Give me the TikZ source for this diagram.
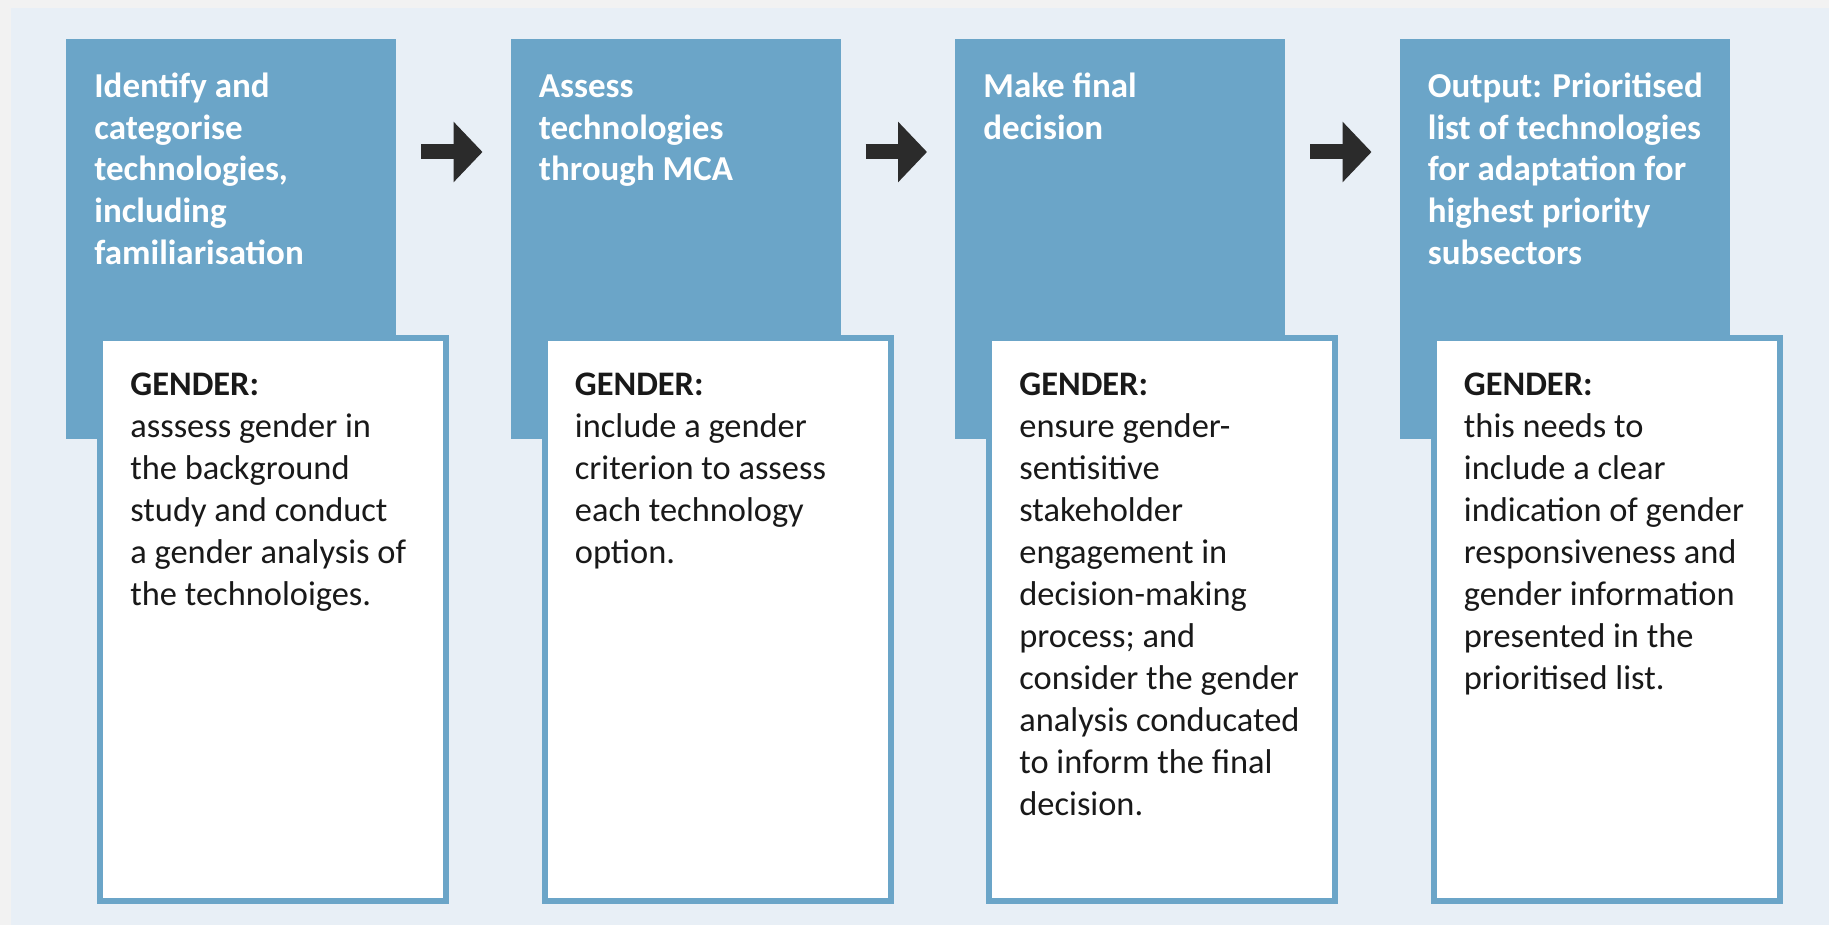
\documentclass[tikz,border=0pt]{standalone}
\usepackage{fontspec}
\setmainfont{Carlito}
\usepackage{tikz}
\usetikzlibrary{arrows.meta,positioning,calc}
\definecolor{stepblue}{HTML}{6BA5C8}
\definecolor{panelbg}{HTML}{E8EFF6}
\definecolor{framegray}{HTML}{F2F2F2}
\definecolor{arrowdark}{HTML}{2B2B2B}

\begin{document}
\begin{tikzpicture}[
    x=0.5pt,y=-0.5pt,
    head/.style={rectangle,fill=stepblue,minimum width=165pt,minimum height=200pt,anchor=north west,inner sep=0pt,outer sep=0pt},
    genderbox/.style={rectangle,draw=stepblue,line width=3pt,fill=white,minimum width=173pt,minimum height=281.5pt,anchor=north west,inner sep=0pt,outer sep=0pt},
    headtext/.style={anchor=north west,align=left,inner sep=0pt,text=white,font=\fontsize{17.5}{20.85}\selectfont\bfseries},
    bodytext/.style={anchor=north west,align=left,inner sep=0pt,text=black!90,font=\fontsize{17.2}{21}\selectfont},
    steparrow/.style={-{Triangle[length=14.5pt,width=29.5pt]},line width=7.5pt,arrowdark,shorten <=12.5pt,shorten >=14pt}
]
% frame and panel
\useasboundingbox (0,0) rectangle (1829,925);
\fill[framegray] (0,0) rectangle (1829,925);
\fill[panelbg] (11,8) rectangle (1829,925);

% step boxes
\node[head] (head1) at (66,39) {};
\node[head] (head2) at (510.5,39) {};
\node[head] (head3) at (955,39) {};
\node[head] (head4) at (1399.5,39) {};

% gender boxes
\node[genderbox] (gender1) at (100,338) {};
\node[genderbox] (gender2) at (544.5,338) {};
\node[genderbox] (gender3) at (989,338) {};
\node[genderbox] (gender4) at (1433.5,338) {};

% step texts
\node[headtext] (headtxt1) at ([shift={(28,28.8)}]head1.north west) {\strut Identify and\\categorise\\technologies,\\including\\familiarisation};
\node[headtext] (headtxt2) at ([shift={(28,28.8)}]head2.north west) {\strut Assess\\technologies\\through MCA};
\node[headtext] (headtxt3) at ([shift={(28,28.8)}]head3.north west) {\strut Make final\\decision};
\node[headtext] (headtxt4) at ([shift={(28,28.8)}]head4.north west) {\strut Output: Prioritised\\list of technologies\\for adaptation for\\highest priority\\subsectors};

% gender texts
\node[bodytext] (gendertxt1) at ([shift={(30,27.6)}]gender1.north west) {\strut\textbf{GENDER:}\\asssess gender in\\the background\\study and conduct\\a gender analysis of\\the technoloiges.};
\node[bodytext] (gendertxt2) at ([shift={(30,27.6)}]gender2.north west) {\strut\textbf{GENDER:}\\include a gender\\criterion to assess\\each technology\\option.};
\node[bodytext] (gendertxt3) at ([shift={(30,27.6)}]gender3.north west) {\strut\textbf{GENDER:}\\ensure gender-\\sentisitive\\stakeholder\\engagement in\\decision-making\\process; and\\consider the gender\\analysis conducated\\to inform the final\\decision.};
\node[bodytext] (gendertxt4) at ([shift={(30,27.6)}]gender4.north west) {\strut\textbf{GENDER:}\\this needs to\\include a clear\\indication of gender\\responsiveness and\\gender information\\presented in the\\prioritised list.};

% arrows between steps
\draw[steparrow] ([yshift=-56.5pt]head1.north east) -- ([yshift=-56.5pt]head2.north west);
\draw[steparrow] ([yshift=-56.5pt]head2.north east) -- ([yshift=-56.5pt]head3.north west);
\draw[steparrow] ([yshift=-56.5pt]head3.north east) -- ([yshift=-56.5pt]head4.north west);
\end{tikzpicture}
\end{document}
